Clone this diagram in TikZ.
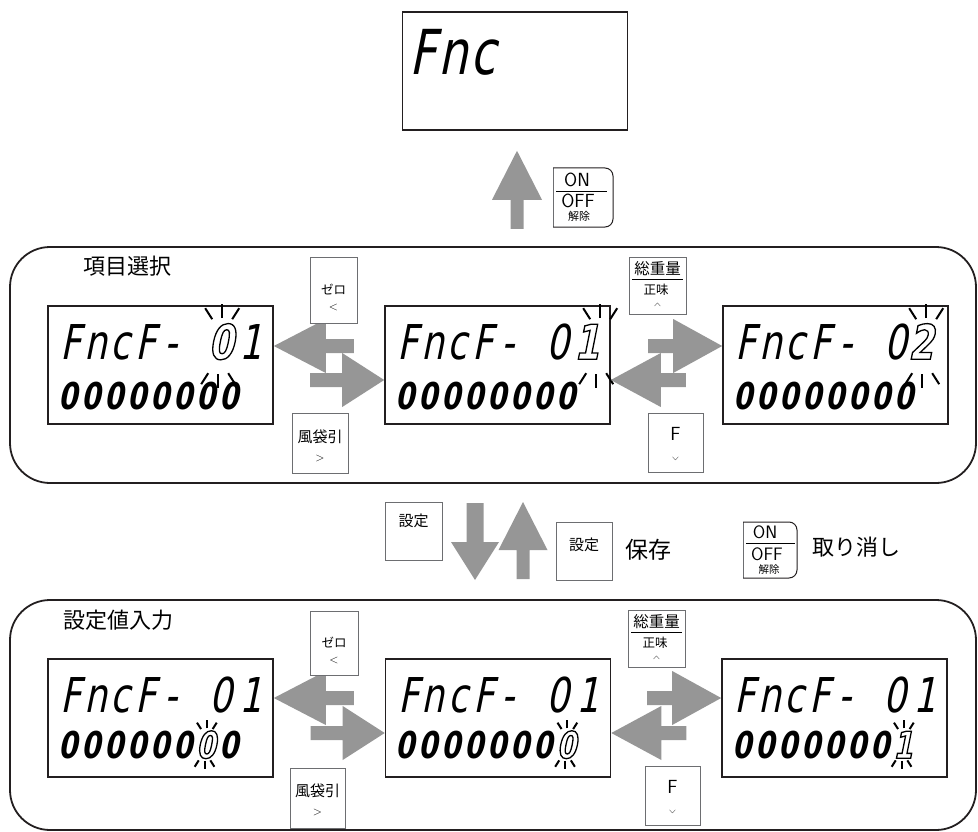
\documentclass[tikz,border=0pt]{standalone}
\usepackage{fontspec}
\usepackage{graphicx}
\usetikzlibrary{calc}
\newfontfamily\cjk{Noto Sans CJK JP}
\newfontfamily\lcdfont{DejaVu Sans}[FakeSlant=0.2,FakeStretch=0.75]
\definecolor{agray}{HTML}{969696}
\definecolor{lined}{HTML}{231F20}
\definecolor{keyline}{HTML}{6D6E71}
\newlength\lcpitch
\newcommand\lc[1]{\makebox[\lcpitch][c]{#1}}
\newcommand\lr[1]{\makebox[\lcpitch][r]{#1\hspace{-0.15\lcpitch}}}
\newcommand\hol[1]{{\bfseries\special{pdf:literal direct 1 Tr 1.3 w}#1\special{pdf:literal direct 0 Tr}}}
\newcommand\lcdA{\lcdfont\fontsize{48}{48}\selectfont\setlength\lcpitch{25pt}}
\newcommand\lcdB{\lcdfont\bfseries\fontsize{37}{37}\selectfont\setlength\lcpitch{23pt}}
\newcommand\lcdT{\lcdfont\fontsize{62}{62}\selectfont\setlength\lcpitch{30pt}}
\newcommand\cj[1]{\cjk\fontsize{#1}{#1}\selectfont}
\newcommand\sfz[1]{\sffamily\fontsize{#1}{#1}\selectfont}
% block arrow: tip, rotation, total length, head length, head half width, shaft half width
\newcommand\barrow[6]{\fill[agray, shift={#1}, rotate=#2] (0,0) -- (-#4,#5) -- (-#4,#6) -- (-#3,#6) -- (-#3,-#6) -- (-#4,-#6) -- (-#4,-#5) -- cycle;}
% blinking rays around a digit
\newcommand\blink[2]{%
  \begin{scope}[shift={#1}, scale=#2]
    \draw[rayline] (2,-28) -- (2,-42);
    \draw[rayline] (-8,-27) -- (-15,-38);
    \draw[rayline] (12,-27) -- (19,-38);
    \draw[rayline] (-2,28) -- (-2,42);
    \draw[rayline] (-12,27) -- (-19,38);
    \draw[rayline] (8,27) -- (15,38);
  \end{scope}}
\begin{document}
\begin{tikzpicture}[x=1pt,y=-1pt,
  lcdbox/.style={draw=lined, line width=1.6pt, minimum width=225pt, minimum height=118pt, inner sep=0},
  rowA/.style={inner sep=0, anchor=base west, font=\lcdA},
  rowB/.style={inner sep=0, anchor=base west, font=\lcdB},
  keybox/.style={draw=keyline, line width=0.7pt, fill=white, inner sep=0},
  groupbox/.style={draw=lined, line width=1.8pt, rounded corners=40pt},
  rayline/.style={line width=2pt, line cap=butt, black},
  txt/.style={inner sep=0}]
\useasboundingbox (0,0) rectangle (978,832);

% groups
\draw[groupbox] (10,247) rectangle (976,483);
\draw[groupbox] (10,600) rectangle (976,830);
\node[txt, anchor=west, font=\cj{22}] (t1) at (83,266) {項目選択};
\node[txt, anchor=west, font=\cj{22}] (t2) at (63,620) {設定値入力};

% top display
\node[lcdbox] (fnc) at (515,71) {};
\node[inner sep=0, anchor=base west, font=\lcdT] (fnct) at (408,75) {\lc F\lc n\lc c};

% displays
\node[lcdbox] (L1) at (160.5,365) {};
\node[lcdbox] (M1) at (497.5,365) {};
\node[lcdbox] (R1) at (835.5,365) {};
\node[lcdbox] (L2) at (160.5,718) {};
\node[lcdbox] (M2) at (498,718) {};
\node[lcdbox] (R2) at (834.5,718) {};

\def\zeros{\lc0\lc0\lc0\lc0\lc0\lc0\lc0\lc0}
\node[rowA] (L1a) at ($(L1.north west)+(11,54)$) {\lc F\lc n\lc c\lc F\lc -\lc{}\lc{\hol0}\lr 1};
\node[rowB] (L1b) at ($(L1.north west)+(9,104)$) {\zeros};
\node[rowA] (M1a) at ($(M1.north west)+(11,54)$) {\lc F\lc n\lc c\lc F\lc -\lc{}\lc 0\lr{\hol1}};
\node[rowB] (M1b) at ($(M1.north west)+(9,104)$) {\zeros};
\node[rowA] (R1a) at ($(R1.north west)+(11,54)$) {\lc F\lc n\lc c\lc F\lc -\lc{}\lc 0\lc{\hol2}};
\node[rowB] (R1b) at ($(R1.north west)+(9,104)$) {\zeros};

\node[rowA] (L2a) at ($(L2.north west)+(11,54)$) {\lc F\lc n\lc c\lc F\lc -\lc{}\lc 0\lr 1};
\node[rowB] (L2b) at ($(L2.north west)+(9,100)$) {\lc0\lc0\lc0\lc0\lc0\lc0\lc{\hol0}\lc0};
\node[rowA] (M2a) at ($(M2.north west)+(11,54)$) {\lc F\lc n\lc c\lc F\lc -\lc{}\lc 0\lr 1};
\node[rowB] (M2b) at ($(M2.north west)+(9,100)$) {\lc0\lc0\lc0\lc0\lc0\lc0\lc0\lc{\hol0}};
\node[rowA] (R2a) at ($(R2.north west)+(11,54)$) {\lc F\lc n\lc c\lc F\lc -\lc{}\lc 0\lr 1};
\node[rowB] (R2b) at ($(R2.north west)+(9,100)$) {\lc0\lc0\lc0\lc0\lc0\lc0\lc0\lc{\hol1}};

% blinking marks
\blink{($(L1.north west)+(173,41)$)}{1}
\blink{($(M1.north west)+(214,41)$)}{1}
\blink{($(R1.north west)+(202,41)$)}{1}
\blink{($(L2.north west)+(158.5,86.5)$)}{0.58}
\blink{($(M2.north west)+(181.5,86.5)$)}{0.58}
\blink{($(R2.north west)+(181.5,86.5)$)}{0.58}

% horizontal block arrows
\barrow{($(L1.east)+(0,-19)$)}{180}{80}{52}{27}{7}
\barrow{($(M1.west)+(0,15)$)}{0}{74}{42}{27}{7}
\barrow{($(R1.west)+(0,-19)$)}{0}{74}{49}{27}{7}
\barrow{($(M1.east)+(0,15)$)}{180}{75}{50}{27}{7}
\barrow{($(L2.east)+(0,-20)$)}{180}{80}{52}{27}{7}
\barrow{($(M2.west)+(0,15)$)}{0}{74}{42}{27}{7}
\barrow{($(R2.west)+(0,-20)$)}{0}{74}{49}{27}{7}
\barrow{($(M2.east)+(0,15)$)}{180}{75}{50}{27}{7}

% vertical block arrows
\barrow{($(fnc.south)+(2,20)$)}{90}{78}{49}{25}{6.5}
\barrow{(475,580)}{-90}{77}{38}{24}{8.5}
\barrow{(523,502)}{90}{77}{48}{24.5}{6.5}

% keys, top group
\node[keybox, minimum width=47pt, minimum height=66pt] (Z1) at (333.5,290) {};
\node[txt, font=\cj{12.5}] at (333.5,289) {ゼロ};
\node[txt, font=\fontsize{13}{13}\selectfont] at (333.5,307.5) {$<$};
\node[keybox, minimum width=56pt, minimum height=60pt] (W1) at (320,443) {};
\node[txt, font=\cj{15}] at (320,437) {風袋引};
\node[txt, font=\fontsize{13}{13}\selectfont] at (320,458) {$>$};
\node[keybox, minimum width=57pt, minimum height=57pt] (S1) at (657.5,285.5) {};
\node[txt, font=\cj{15.5}] at (657.5,269) {総重量};
\draw[line width=0.8pt] (632,279.5) -- (683,279.5);
\node[txt, font=\cj{12.5}] at (656,290) {正味};
\node[txt] at (657.5,305) {\scalebox{1.1}[0.55]{$\wedge$}};
\node[keybox, minimum width=55pt, minimum height=59pt] (F1) at (675.5,442.5) {};
\node[txt, font=\sfz{19}] at (675.5,434) {F};
\node[txt] at (675.5,459) {\scalebox{1.1}[0.55]{$\vee$}};

% keys, bottom group
\node[keybox, minimum width=48pt, minimum height=64pt] (Z2) at (334,643) {};
\node[txt, font=\cj{12.5}] at (334,642) {ゼロ};
\node[txt, font=\fontsize{13}{13}\selectfont] at (334,660.5) {$<$};
\node[keybox, minimum width=55pt, minimum height=60pt] (W2) at (317.5,798) {};
\node[txt, font=\cj{15}] at (317.5,791) {風袋引};
\node[txt, font=\fontsize{13}{13}\selectfont] at (317.5,812) {$>$};
\node[keybox, minimum width=57pt, minimum height=57pt] (S2) at (656.5,639) {};
\node[txt, font=\cj{15.5}] at (656.5,622) {総重量};
\draw[line width=0.8pt] (631,632.5) -- (682,632.5);
\node[txt, font=\cj{12.5}] at (655,643) {正味};
\node[txt] at (656.5,658) {\scalebox{1.1}[0.55]{$\wedge$}};
\node[keybox, minimum width=55pt, minimum height=59pt] (F2) at (672.5,796) {};
\node[txt, font=\sfz{19}] at (672.5,787) {F};
\node[txt] at (672.5,812) {\scalebox{1.1}[0.55]{$\vee$}};

% set keys between groups
\node[keybox, minimum width=57pt, minimum height=58pt] (K1) at (413.5,531) {};
\node[txt, font=\cj{15}] at (413.5,521) {設定};
\node[keybox, minimum width=56pt, minimum height=58pt] (K2) at (584,551) {};
\node[txt, font=\cj{15}] at (584,545) {設定};
\node[txt, anchor=west, font=\cj{23}] (save) at (625,550) {保存};

% ON/OFF keys
\draw[keyline, line width=0.7pt] (553,168) -- (553,227);
\draw[lined, line width=1pt, rounded corners=8pt] (553,168) -- (613,168) -- (613,227) -- (553,227);
\draw[line width=0.8pt] (556,191) -- (607,191);
\node[txt, font=\sfz{19}] (on1) at (577,180) {ON};
\node[txt, font=\sfz{19}] (off1) at (578,201) {OFF};
\node[txt, font=\cj{11}] (kj1) at (579,216) {解除};

\draw[keyline, line width=0.7pt] (743,522) -- (743,578);
\draw[lined, line width=1pt, rounded corners=8pt] (743,522) -- (797,522) -- (797,578) -- (743,578);
\draw[line width=0.8pt] (746,543) -- (795,543);
\node[txt, font=\sfz{18}] (on2) at (765,532) {ON};
\node[txt, font=\sfz{18}] (off2) at (767,554) {OFF};
\node[txt, font=\cj{10.5}] (kj2) at (769,570) {解除};
\node[txt, anchor=west, font=\cj{22}] (cancel) at (812,547) {取り消し};
\end{tikzpicture}
\end{document}
